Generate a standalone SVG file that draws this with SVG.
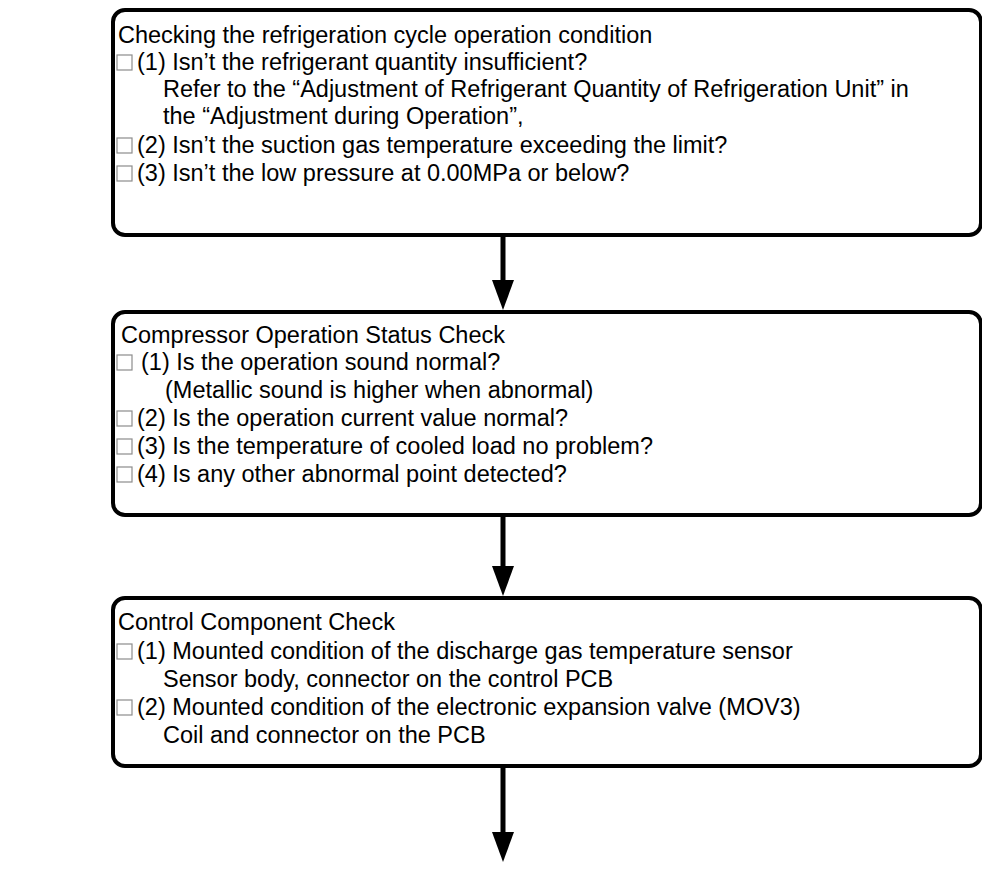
<svg xmlns="http://www.w3.org/2000/svg" width="982" height="869" viewBox="0 0 982 869">
<style>
.box{fill:#fff;stroke:#000;stroke-width:4}
.cb{fill:#fff;stroke:#8c8c8c;stroke-width:1.2}
text{font-family:"Liberation Sans",Arial,sans-serif;font-size:23.5px;fill:#000}
.conn{stroke:#000;stroke-width:5;fill:none}
.head{fill:#000}
</style>
<rect width="982" height="869" fill="#fff"/>
<g id="connectors">
<line class="conn" x1="503" y1="235" x2="503" y2="284"/>
<path class="head" d="M492,280 L514,280 L503,310 Z"/>
<line class="conn" x1="503" y1="515" x2="503" y2="570"/>
<path class="head" d="M492,566 L514,566 L503,596 Z"/>
<line class="conn" x1="503" y1="766" x2="503" y2="836"/>
<path class="head" d="M492,832 L514,832 L503,862 Z"/>
</g>
<g id="node1">
<rect class="box" x="113" y="10" width="868" height="225" rx="12"/>
<text x="118" y="43">Checking the refrigeration cycle operation condition</text>
<rect class="cb" x="117" y="55" width="15" height="15"/>
<text x="137" y="70">(1) Isn’t the refrigerant quantity insufficient?</text>
<text x="163" y="97">Refer to the “Adjustment of Refrigerant Quantity of Refrigeration Unit” in</text>
<text x="163" y="124">the “Adjustment during Operation”,</text>
<rect class="cb" x="117" y="138" width="15" height="15"/>
<text x="137" y="153">(2) Isn’t the suction gas temperature exceeding the limit?</text>
<rect class="cb" x="117" y="166" width="15" height="15"/>
<text x="137" y="181">(3) Isn’t the low pressure at 0.00MPa or below?</text>
</g>
<g id="node2">
<rect class="box" x="113" y="312" width="868" height="203" rx="12"/>
<text x="121" y="343">Compressor Operation Status Check</text>
<rect class="cb" x="117" y="355" width="15" height="15"/>
<text x="141" y="370">(1) Is the operation sound normal?</text>
<text x="165" y="398">(Metallic sound is higher when abnormal)</text>
<rect class="cb" x="117" y="411" width="15" height="15"/>
<text x="137" y="426">(2) Is the operation current value normal?</text>
<rect class="cb" x="117" y="439" width="15" height="15"/>
<text x="137" y="454">(3) Is the temperature of cooled load no problem?</text>
<rect class="cb" x="117" y="467" width="15" height="15"/>
<text x="137" y="482">(4) Is any other abnormal point detected?</text>
</g>
<g id="node3">
<rect class="box" x="113" y="598" width="868" height="168" rx="12"/>
<text x="118" y="630">Control Component Check</text>
<rect class="cb" x="117" y="644" width="15" height="15"/>
<text x="137" y="659">(1) Mounted condition of the discharge gas temperature sensor</text>
<text x="163" y="687">Sensor body, connector on the control PCB</text>
<rect class="cb" x="117" y="700" width="15" height="15"/>
<text x="137" y="715">(2) Mounted condition of the electronic expansion valve (MOV3)</text>
<text x="163" y="743">Coil and connector on the PCB</text>
</g>
</svg>
